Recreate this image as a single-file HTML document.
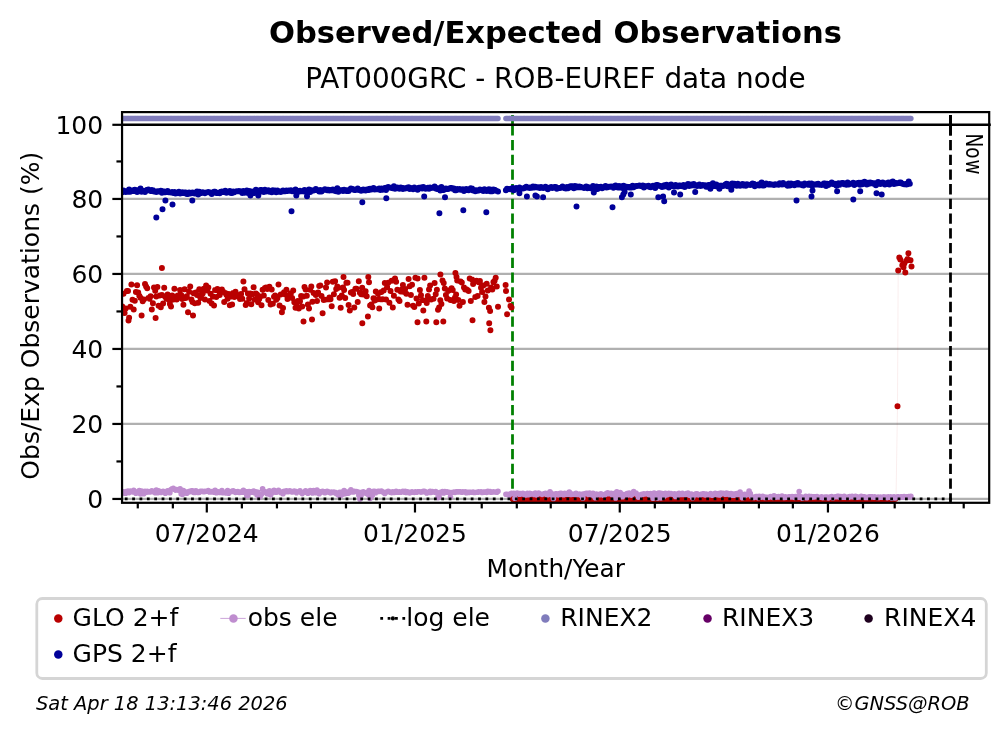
<!DOCTYPE html>
<html lang="en"><head><meta charset="utf-8"><title>Observed/Expected Observations</title>
<style>html,body{margin:0;padding:0;background:#fff}body{width:1008px;height:734px;overflow:hidden}svg text{white-space:pre}</style>
</head><body>
<svg width="1008" height="734" viewBox="0 0 1008 734" font-family='"DejaVu Sans", "Liberation Sans", sans-serif' style="display:block">
<rect width="1008" height="734" fill="#fff"/>
<g stroke="#b0b0b0" stroke-width="2.2" fill="none">
<line x1="122.05" x2="989.2" y1="498.95" y2="498.95"/>
<line x1="122.05" x2="989.2" y1="423.95" y2="423.95"/>
<line x1="122.05" x2="989.2" y1="348.95" y2="348.95"/>
<line x1="122.05" x2="989.2" y1="273.95" y2="273.95"/>
<line x1="122.05" x2="989.2" y1="198.95" y2="198.95"/>
</g>
<clipPath id="ax"><rect x="122.05" y="112.1" width="867.15" height="390.70"/></clipPath>
<g clip-path="url(#ax)">
<line x1="512.5" x2="512.5" y1="115" y2="135.5" stroke="#008000" stroke-width="2.78"/><line x1="512.5" x2="512.5" y1="139.94" y2="502.8" stroke="#008000" stroke-width="2.78" stroke-dasharray="10.28 4.44"/>
<path d="M122.3 118.5h.01M123.5 118.5h.01M124.6 118.5h.01M125.7 118.5h.01M126.9 118.5h.01M128.0 118.5h.01M129.1 118.5h.01M130.3 118.5h.01M131.4 118.5h.01M132.5 118.5h.01M133.7 118.5h.01M134.8 118.5h.01M135.9 118.5h.01M137.1 118.5h.01M138.2 118.5h.01M139.3 118.5h.01M140.5 118.5h.01M141.6 118.5h.01M142.7 118.5h.01M143.8 118.5h.01M145.0 118.5h.01M146.1 118.5h.01M147.2 118.5h.01M148.4 118.5h.01M149.5 118.5h.01M150.6 118.5h.01M151.8 118.5h.01M152.9 118.5h.01M154.0 118.5h.01M155.2 118.5h.01M156.3 118.5h.01M157.4 118.5h.01M158.6 118.5h.01M159.7 118.5h.01M160.8 118.5h.01M161.9 118.5h.01M163.1 118.5h.01M164.2 118.5h.01M165.3 118.5h.01M166.5 118.5h.01M167.6 118.5h.01M168.7 118.5h.01M169.9 118.5h.01M171.0 118.5h.01M172.1 118.5h.01M173.3 118.5h.01M174.4 118.5h.01M175.5 118.5h.01M176.7 118.5h.01M177.8 118.5h.01M178.9 118.5h.01M180.1 118.5h.01M181.2 118.5h.01M182.3 118.5h.01M183.4 118.5h.01M184.6 118.5h.01M185.7 118.5h.01M186.8 118.5h.01M188.0 118.5h.01M189.1 118.5h.01M190.2 118.5h.01M191.4 118.5h.01M192.5 118.5h.01M193.6 118.5h.01M194.8 118.5h.01M195.9 118.5h.01M197.0 118.5h.01M198.2 118.5h.01M199.3 118.5h.01M200.4 118.5h.01M201.5 118.5h.01M202.7 118.5h.01M203.8 118.5h.01M204.9 118.5h.01M206.1 118.5h.01M207.2 118.5h.01M208.3 118.5h.01M209.5 118.5h.01M210.6 118.5h.01M211.7 118.5h.01M212.9 118.5h.01M214.0 118.5h.01M215.1 118.5h.01M216.3 118.5h.01M217.4 118.5h.01M218.5 118.5h.01M219.7 118.5h.01M220.8 118.5h.01M221.9 118.5h.01M223.0 118.5h.01M224.2 118.5h.01M225.3 118.5h.01M226.4 118.5h.01M227.6 118.5h.01M228.7 118.5h.01M229.8 118.5h.01M231.0 118.5h.01M232.1 118.5h.01M233.2 118.5h.01M234.4 118.5h.01M235.5 118.5h.01M236.6 118.5h.01M237.8 118.5h.01M238.9 118.5h.01M240.0 118.5h.01M241.1 118.5h.01M242.3 118.5h.01M243.4 118.5h.01M244.5 118.5h.01M245.7 118.5h.01M246.8 118.5h.01M247.9 118.5h.01M249.1 118.5h.01M250.2 118.5h.01M251.3 118.5h.01M252.5 118.5h.01M253.6 118.5h.01M254.7 118.5h.01M255.9 118.5h.01M257.0 118.5h.01M258.1 118.5h.01M259.2 118.5h.01M260.4 118.5h.01M261.5 118.5h.01M262.6 118.5h.01M263.8 118.5h.01M264.9 118.5h.01M266.0 118.5h.01M267.2 118.5h.01M268.3 118.5h.01M269.4 118.5h.01M270.6 118.5h.01M271.7 118.5h.01M272.8 118.5h.01M274.0 118.5h.01M275.1 118.5h.01M276.2 118.5h.01M277.4 118.5h.01M278.5 118.5h.01M279.6 118.5h.01M280.7 118.5h.01M281.9 118.5h.01M283.0 118.5h.01M284.1 118.5h.01M285.3 118.5h.01M286.4 118.5h.01M287.5 118.5h.01M288.7 118.5h.01M289.8 118.5h.01M290.9 118.5h.01M292.1 118.5h.01M293.2 118.5h.01M294.3 118.5h.01M295.5 118.5h.01M296.6 118.5h.01M297.7 118.5h.01M298.8 118.5h.01M300.0 118.5h.01M301.1 118.5h.01M302.2 118.5h.01M303.4 118.5h.01M304.5 118.5h.01M305.6 118.5h.01M306.8 118.5h.01M307.9 118.5h.01M309.0 118.5h.01M310.2 118.5h.01M311.3 118.5h.01M312.4 118.5h.01M313.6 118.5h.01M314.7 118.5h.01M315.8 118.5h.01M317.0 118.5h.01M318.1 118.5h.01M319.2 118.5h.01M320.3 118.5h.01M321.5 118.5h.01M322.6 118.5h.01M323.7 118.5h.01M324.9 118.5h.01M326.0 118.5h.01M327.1 118.5h.01M328.3 118.5h.01M329.4 118.5h.01M330.5 118.5h.01M331.7 118.5h.01M332.8 118.5h.01M333.9 118.5h.01M335.1 118.5h.01M336.2 118.5h.01M337.3 118.5h.01M338.4 118.5h.01M339.6 118.5h.01M340.7 118.5h.01M341.8 118.5h.01M343.0 118.5h.01M344.1 118.5h.01M345.2 118.5h.01M346.4 118.5h.01M347.5 118.5h.01M348.6 118.5h.01M349.8 118.5h.01M350.9 118.5h.01M352.0 118.5h.01M353.2 118.5h.01M354.3 118.5h.01M355.4 118.5h.01M356.5 118.5h.01M357.7 118.5h.01M358.8 118.5h.01M359.9 118.5h.01M361.1 118.5h.01M362.2 118.5h.01M363.3 118.5h.01M364.5 118.5h.01M365.6 118.5h.01M366.7 118.5h.01M367.9 118.5h.01M369.0 118.5h.01M370.1 118.5h.01M371.3 118.5h.01M372.4 118.5h.01M373.5 118.5h.01M374.7 118.5h.01M375.8 118.5h.01M376.9 118.5h.01M378.0 118.5h.01M379.2 118.5h.01M380.3 118.5h.01M381.4 118.5h.01M382.6 118.5h.01M383.7 118.5h.01M384.8 118.5h.01M386.0 118.5h.01M387.1 118.5h.01M388.2 118.5h.01M389.4 118.5h.01M390.5 118.5h.01M391.6 118.5h.01M392.8 118.5h.01M393.9 118.5h.01M395.0 118.5h.01M396.1 118.5h.01M397.3 118.5h.01M398.4 118.5h.01M399.5 118.5h.01M400.7 118.5h.01M401.8 118.5h.01M402.9 118.5h.01M404.1 118.5h.01M405.2 118.5h.01M406.3 118.5h.01M407.5 118.5h.01M408.6 118.5h.01M409.7 118.5h.01M410.9 118.5h.01M412.0 118.5h.01M413.1 118.5h.01M414.3 118.5h.01M415.4 118.5h.01M416.5 118.5h.01M417.6 118.5h.01M418.8 118.5h.01M419.9 118.5h.01M421.0 118.5h.01M422.2 118.5h.01M423.3 118.5h.01M424.4 118.5h.01M425.6 118.5h.01M426.7 118.5h.01M427.8 118.5h.01M429.0 118.5h.01M430.1 118.5h.01M431.2 118.5h.01M432.4 118.5h.01M433.5 118.5h.01M434.6 118.5h.01M435.7 118.5h.01M436.9 118.5h.01M438.0 118.5h.01M439.1 118.5h.01M440.3 118.5h.01M441.4 118.5h.01M442.5 118.5h.01M443.7 118.5h.01M444.8 118.5h.01M445.9 118.5h.01M447.1 118.5h.01M448.2 118.5h.01M449.3 118.5h.01M450.5 118.5h.01M451.6 118.5h.01M452.7 118.5h.01M453.9 118.5h.01M455.0 118.5h.01M456.1 118.5h.01M457.2 118.5h.01M458.4 118.5h.01M459.5 118.5h.01M460.6 118.5h.01M461.8 118.5h.01M462.9 118.5h.01M464.0 118.5h.01M465.2 118.5h.01M466.3 118.5h.01M467.4 118.5h.01M468.6 118.5h.01M469.7 118.5h.01M470.8 118.5h.01M472.0 118.5h.01M473.1 118.5h.01M474.2 118.5h.01M475.3 118.5h.01M476.5 118.5h.01M477.6 118.5h.01M478.7 118.5h.01M479.9 118.5h.01M481.0 118.5h.01M482.1 118.5h.01M483.3 118.5h.01M484.4 118.5h.01M485.5 118.5h.01M486.7 118.5h.01M487.8 118.5h.01M488.9 118.5h.01M490.1 118.5h.01M491.2 118.5h.01M492.3 118.5h.01M493.4 118.5h.01M494.6 118.5h.01M495.7 118.5h.01M496.8 118.5h.01M498.0 118.5h.01M505.9 118.5h.01M507.0 118.5h.01M508.2 118.5h.01M509.3 118.5h.01M510.4 118.5h.01M511.6 118.5h.01M512.7 118.5h.01M513.8 118.5h.01M514.9 118.5h.01M516.1 118.5h.01M517.2 118.5h.01M518.3 118.5h.01M519.5 118.5h.01M520.6 118.5h.01M521.7 118.5h.01M522.9 118.5h.01M524.0 118.5h.01M525.1 118.5h.01M526.3 118.5h.01M527.4 118.5h.01M528.5 118.5h.01M529.7 118.5h.01M530.8 118.5h.01M531.9 118.5h.01M533.0 118.5h.01M534.2 118.5h.01M535.3 118.5h.01M536.4 118.5h.01M537.6 118.5h.01M538.7 118.5h.01M539.8 118.5h.01M541.0 118.5h.01M542.1 118.5h.01M543.2 118.5h.01M544.4 118.5h.01M545.5 118.5h.01M546.6 118.5h.01M547.8 118.5h.01M548.9 118.5h.01M550.0 118.5h.01M551.2 118.5h.01M552.3 118.5h.01M553.4 118.5h.01M554.5 118.5h.01M555.7 118.5h.01M556.8 118.5h.01M557.9 118.5h.01M559.1 118.5h.01M560.2 118.5h.01M561.3 118.5h.01M562.5 118.5h.01M563.6 118.5h.01M564.7 118.5h.01M565.9 118.5h.01M567.0 118.5h.01M568.1 118.5h.01M569.3 118.5h.01M570.4 118.5h.01M571.5 118.5h.01M572.6 118.5h.01M573.8 118.5h.01M574.9 118.5h.01M576.0 118.5h.01M577.2 118.5h.01M578.3 118.5h.01M579.4 118.5h.01M580.6 118.5h.01M581.7 118.5h.01M582.8 118.5h.01M584.0 118.5h.01M585.1 118.5h.01M586.2 118.5h.01M587.4 118.5h.01M588.5 118.5h.01M589.6 118.5h.01M590.7 118.5h.01M591.9 118.5h.01M593.0 118.5h.01M594.1 118.5h.01M595.3 118.5h.01M596.4 118.5h.01M597.5 118.5h.01M598.7 118.5h.01M599.8 118.5h.01M600.9 118.5h.01M602.1 118.5h.01M603.2 118.5h.01M604.3 118.5h.01M605.5 118.5h.01M606.6 118.5h.01M607.7 118.5h.01M608.9 118.5h.01M610.0 118.5h.01M611.1 118.5h.01M612.2 118.5h.01M613.4 118.5h.01M614.5 118.5h.01M615.6 118.5h.01M616.8 118.5h.01M617.9 118.5h.01M619.0 118.5h.01M620.2 118.5h.01M621.3 118.5h.01M622.4 118.5h.01M623.6 118.5h.01M624.7 118.5h.01M625.8 118.5h.01M627.0 118.5h.01M628.1 118.5h.01M629.2 118.5h.01M630.3 118.5h.01M631.5 118.5h.01M632.6 118.5h.01M633.7 118.5h.01M634.9 118.5h.01M636.0 118.5h.01M637.1 118.5h.01M638.3 118.5h.01M639.4 118.5h.01M640.5 118.5h.01M641.7 118.5h.01M642.8 118.5h.01M643.9 118.5h.01M645.1 118.5h.01M646.2 118.5h.01M647.3 118.5h.01M648.5 118.5h.01M649.6 118.5h.01M650.7 118.5h.01M651.8 118.5h.01M653.0 118.5h.01M654.1 118.5h.01M655.2 118.5h.01M656.4 118.5h.01M657.5 118.5h.01M658.6 118.5h.01M659.8 118.5h.01M660.9 118.5h.01M662.0 118.5h.01M663.2 118.5h.01M664.3 118.5h.01M665.4 118.5h.01M666.6 118.5h.01M667.7 118.5h.01M668.8 118.5h.01M669.9 118.5h.01M671.1 118.5h.01M672.2 118.5h.01M673.3 118.5h.01M674.5 118.5h.01M675.6 118.5h.01M676.7 118.5h.01M677.9 118.5h.01M679.0 118.5h.01M680.1 118.5h.01M681.3 118.5h.01M682.4 118.5h.01M683.5 118.5h.01M684.7 118.5h.01M685.8 118.5h.01M686.9 118.5h.01M688.0 118.5h.01M689.2 118.5h.01M690.3 118.5h.01M691.4 118.5h.01M692.6 118.5h.01M693.7 118.5h.01M694.8 118.5h.01M696.0 118.5h.01M697.1 118.5h.01M698.2 118.5h.01M699.4 118.5h.01M700.5 118.5h.01M701.6 118.5h.01M702.8 118.5h.01M703.9 118.5h.01M705.0 118.5h.01M706.2 118.5h.01M707.3 118.5h.01M708.4 118.5h.01M709.5 118.5h.01M710.7 118.5h.01M711.8 118.5h.01M712.9 118.5h.01M714.1 118.5h.01M715.2 118.5h.01M716.3 118.5h.01M717.5 118.5h.01M718.6 118.5h.01M719.7 118.5h.01M720.9 118.5h.01M722.0 118.5h.01M723.1 118.5h.01M724.3 118.5h.01M725.4 118.5h.01M726.5 118.5h.01M727.6 118.5h.01M728.8 118.5h.01M729.9 118.5h.01M731.0 118.5h.01M732.2 118.5h.01M733.3 118.5h.01M734.4 118.5h.01M735.6 118.5h.01M736.7 118.5h.01M737.8 118.5h.01M739.0 118.5h.01M740.1 118.5h.01M741.2 118.5h.01M742.4 118.5h.01M743.5 118.5h.01M744.6 118.5h.01M745.8 118.5h.01M746.9 118.5h.01M748.0 118.5h.01M749.1 118.5h.01M750.3 118.5h.01M751.4 118.5h.01M752.5 118.5h.01M753.7 118.5h.01M754.8 118.5h.01M755.9 118.5h.01M757.1 118.5h.01M758.2 118.5h.01M759.3 118.5h.01M760.5 118.5h.01M761.6 118.5h.01M762.7 118.5h.01M763.9 118.5h.01M765.0 118.5h.01M766.1 118.5h.01M767.2 118.5h.01M768.4 118.5h.01M769.5 118.5h.01M770.6 118.5h.01M771.8 118.5h.01M772.9 118.5h.01M774.0 118.5h.01M775.2 118.5h.01M776.3 118.5h.01M777.4 118.5h.01M778.6 118.5h.01M779.7 118.5h.01M780.8 118.5h.01M782.0 118.5h.01M783.1 118.5h.01M784.2 118.5h.01M785.4 118.5h.01M786.5 118.5h.01M787.6 118.5h.01M788.7 118.5h.01M789.9 118.5h.01M791.0 118.5h.01M792.1 118.5h.01M793.3 118.5h.01M794.4 118.5h.01M795.5 118.5h.01M796.7 118.5h.01M797.8 118.5h.01M798.9 118.5h.01M800.1 118.5h.01M801.2 118.5h.01M802.3 118.5h.01M803.5 118.5h.01M804.6 118.5h.01M805.7 118.5h.01M806.8 118.5h.01M808.0 118.5h.01M809.1 118.5h.01M810.2 118.5h.01M811.4 118.5h.01M812.5 118.5h.01M813.6 118.5h.01M814.8 118.5h.01M815.9 118.5h.01M817.0 118.5h.01M818.2 118.5h.01M819.3 118.5h.01M820.4 118.5h.01M821.6 118.5h.01M822.7 118.5h.01M823.8 118.5h.01M824.9 118.5h.01M826.1 118.5h.01M827.2 118.5h.01M828.3 118.5h.01M829.5 118.5h.01M830.6 118.5h.01M831.7 118.5h.01M832.9 118.5h.01M834.0 118.5h.01M835.1 118.5h.01M836.3 118.5h.01M837.4 118.5h.01M838.5 118.5h.01M839.7 118.5h.01M840.8 118.5h.01M841.9 118.5h.01M843.1 118.5h.01M844.2 118.5h.01M845.3 118.5h.01M846.4 118.5h.01M847.6 118.5h.01M848.7 118.5h.01M849.8 118.5h.01M851.0 118.5h.01M852.1 118.5h.01M853.2 118.5h.01M854.4 118.5h.01M855.5 118.5h.01M856.6 118.5h.01M857.8 118.5h.01M858.9 118.5h.01M860.0 118.5h.01M861.2 118.5h.01M862.3 118.5h.01M863.4 118.5h.01M864.5 118.5h.01M865.7 118.5h.01M866.8 118.5h.01M867.9 118.5h.01M869.1 118.5h.01M870.2 118.5h.01M871.3 118.5h.01M872.5 118.5h.01M873.6 118.5h.01M874.7 118.5h.01M875.9 118.5h.01M877.0 118.5h.01M878.1 118.5h.01M879.3 118.5h.01M880.4 118.5h.01M881.5 118.5h.01M882.7 118.5h.01M883.8 118.5h.01M884.9 118.5h.01M886.0 118.5h.01M887.2 118.5h.01M888.3 118.5h.01M889.4 118.5h.01M890.6 118.5h.01M891.7 118.5h.01M892.8 118.5h.01M894.0 118.5h.01M895.1 118.5h.01M896.2 118.5h.01M897.4 118.5h.01M898.5 118.5h.01M899.6 118.5h.01M900.8 118.5h.01M901.9 118.5h.01M903.0 118.5h.01M904.1 118.5h.01M905.3 118.5h.01M906.4 118.5h.01M907.5 118.5h.01M908.7 118.5h.01M909.8 118.5h.01M910.9 118.5h.01" fill="none" stroke="#807cbc" stroke-width="5.5" stroke-linecap="round" />
<path d="M896 498.9L897.5 406.3L898.2 270.5" fill="none" stroke="#b90000" stroke-opacity="0.07" stroke-width="1"/>
<path d="M122.3 306.5h.01M123.5 293.8h.01M124.6 313.0h.01M125.7 308.5h.01M126.9 291.0h.01M128.0 291.1h.01M129.1 317.7h.01M130.3 306.7h.01M131.4 284.5h.01M132.5 299.8h.01M133.7 309.5h.01M134.8 300.7h.01M135.9 292.1h.01M137.1 285.2h.01M138.2 292.5h.01M139.3 295.8h.01M140.5 297.7h.01M141.6 315.6h.01M142.7 301.3h.01M143.8 299.6h.01M145.0 283.9h.01M146.1 286.6h.01M147.2 288.3h.01M148.4 298.0h.01M149.5 298.7h.01M150.6 296.2h.01M151.8 309.6h.01M152.9 303.3h.01M154.0 287.5h.01M155.2 290.8h.01M156.3 296.4h.01M157.4 287.0h.01M158.6 305.7h.01M159.7 295.4h.01M160.8 307.2h.01M161.9 295.0h.01M163.1 303.4h.01M164.2 287.7h.01M165.3 297.1h.01M166.5 298.5h.01M167.6 294.6h.01M168.7 299.8h.01M169.9 303.9h.01M171.0 306.6h.01M172.1 295.5h.01M173.3 299.6h.01M174.4 288.7h.01M175.5 296.6h.01M176.7 299.6h.01M177.8 295.6h.01M178.9 295.2h.01M180.1 290.0h.01M181.2 295.1h.01M182.3 299.0h.01M183.4 304.8h.01M184.6 289.3h.01M185.7 297.9h.01M186.8 296.3h.01M188.0 312.3h.01M189.1 291.8h.01M190.2 286.5h.01M191.4 299.6h.01M192.5 301.9h.01M193.6 293.2h.01M194.8 303.3h.01M195.9 292.4h.01M197.0 294.9h.01M198.2 302.8h.01M199.3 289.3h.01M200.4 298.0h.01M201.5 294.5h.01M202.7 293.5h.01M203.8 288.7h.01M204.9 299.5h.01M206.1 285.5h.01M207.2 290.5h.01M208.3 287.6h.01M209.5 301.1h.01M210.6 293.8h.01M211.7 303.6h.01M212.9 296.5h.01M214.0 305.6h.01M215.1 290.1h.01M216.3 296.9h.01M217.4 289.1h.01M218.5 290.7h.01M219.7 295.1h.01M220.8 290.4h.01M221.9 289.6h.01M223.0 291.4h.01M224.2 302.0h.01M225.3 293.0h.01M226.4 294.7h.01M227.6 298.7h.01M228.7 294.1h.01M229.8 305.3h.01M231.0 296.6h.01M232.1 304.6h.01M233.2 292.9h.01M234.4 297.1h.01M235.5 291.8h.01M236.6 295.5h.01M237.8 296.0h.01M238.9 294.9h.01M240.0 299.1h.01M241.1 294.0h.01M242.3 298.8h.01M243.4 281.5h.01M244.5 289.3h.01M245.7 305.1h.01M246.8 303.1h.01M247.9 293.4h.01M249.1 298.6h.01M250.2 293.6h.01M251.3 304.3h.01M252.5 294.1h.01M253.6 287.3h.01M254.7 299.4h.01M255.9 293.6h.01M257.0 294.4h.01M258.1 302.3h.01M259.2 299.0h.01M260.4 296.4h.01M261.5 305.3h.01M262.6 289.8h.01M263.8 295.4h.01M264.9 287.9h.01M266.0 287.5h.01M267.2 289.0h.01M268.3 300.1h.01M269.4 286.7h.01M270.6 304.4h.01M271.7 289.5h.01M272.8 303.7h.01M274.0 296.7h.01M275.1 295.5h.01M276.2 299.8h.01M277.4 298.3h.01M278.5 284.5h.01M279.6 305.4h.01M280.7 294.5h.01M281.9 312.2h.01M283.0 308.0h.01M284.1 292.2h.01M285.3 294.4h.01M286.4 289.8h.01M287.5 299.1h.01M288.7 295.8h.01M289.8 296.1h.01M290.9 293.2h.01M292.1 297.9h.01M293.2 290.5h.01M294.3 302.3h.01M295.5 307.7h.01M296.6 305.7h.01M297.7 301.0h.01M298.8 308.5h.01M300.0 301.2h.01M301.1 295.9h.01M302.2 306.5h.01M303.4 296.6h.01M304.5 287.0h.01M305.6 289.4h.01M306.8 295.7h.01M307.9 304.5h.01M309.0 308.4h.01M310.2 289.8h.01M311.3 286.5h.01M312.4 301.8h.01M313.6 292.9h.01M314.7 293.4h.01M315.8 295.1h.01M317.0 301.1h.01M318.1 292.4h.01M319.2 286.1h.01M320.3 285.6h.01M321.5 296.0h.01M322.6 313.2h.01M323.7 300.1h.01M324.9 299.7h.01M326.0 287.5h.01M327.1 282.6h.01M328.3 299.2h.01M329.4 297.6h.01M330.5 299.2h.01M331.7 306.3h.01M332.8 281.8h.01M333.9 294.3h.01M335.1 281.2h.01M336.2 289.0h.01M337.3 286.5h.01M338.4 287.8h.01M339.6 297.7h.01M340.7 307.8h.01M341.8 295.4h.01M343.0 287.6h.01M344.1 290.0h.01M345.2 297.9h.01M346.4 282.7h.01M347.5 282.7h.01M348.6 305.1h.01M349.8 310.4h.01M350.9 292.5h.01M352.0 292.0h.01M353.2 293.9h.01M354.3 307.4h.01M355.4 288.8h.01M356.5 288.8h.01M357.7 302.0h.01M358.8 281.3h.01M359.9 292.8h.01M361.1 294.3h.01M362.2 287.7h.01M363.3 294.6h.01M364.5 294.5h.01M365.6 291.3h.01M366.7 296.3h.01M367.9 316.5h.01M369.0 282.3h.01M370.1 305.5h.01M371.3 304.4h.01M372.4 307.2h.01M373.5 298.3h.01M374.7 300.4h.01M375.8 291.4h.01M376.9 299.6h.01M378.0 293.8h.01M379.2 308.6h.01M380.3 299.2h.01M381.4 292.0h.01M382.6 299.3h.01M383.7 290.6h.01M384.8 282.9h.01M386.0 299.4h.01M387.1 286.9h.01M388.2 282.7h.01M389.4 302.7h.01M390.5 290.9h.01M391.6 280.7h.01M392.8 307.5h.01M393.9 295.8h.01M395.0 278.6h.01M396.1 281.8h.01M397.3 289.8h.01M398.4 299.5h.01M399.5 301.0h.01M400.7 291.4h.01M401.8 289.5h.01M402.9 285.0h.01M404.1 292.0h.01M405.2 288.9h.01M406.3 293.8h.01M407.5 304.7h.01M408.6 278.9h.01M409.7 286.2h.01M410.9 294.9h.01M412.0 284.8h.01M413.1 305.8h.01M414.3 307.0h.01M415.4 277.8h.01M416.5 298.5h.01M417.6 278.6h.01M418.8 303.5h.01M419.9 289.9h.01M421.0 295.3h.01M422.2 300.1h.01M423.3 310.5h.01M424.4 277.7h.01M425.6 300.5h.01M426.7 303.0h.01M427.8 296.0h.01M429.0 289.6h.01M430.1 285.4h.01M431.2 299.6h.01M432.4 299.1h.01M433.5 298.7h.01M434.6 283.1h.01M435.7 294.2h.01M436.9 289.7h.01M438.0 309.7h.01M439.1 307.6h.01M440.3 300.3h.01M441.4 304.1h.01M442.5 280.5h.01M443.7 283.1h.01M444.8 288.4h.01M445.9 295.1h.01M447.1 298.4h.01M448.2 290.9h.01M449.3 290.2h.01M450.5 299.9h.01M451.6 288.3h.01M452.7 290.0h.01M453.9 301.1h.01M455.0 297.6h.01M456.1 294.6h.01M457.2 280.5h.01M458.4 300.1h.01M459.5 305.7h.01M460.6 281.5h.01M461.8 282.5h.01M462.9 302.1h.01M464.0 287.5h.01M465.2 289.6h.01M466.3 289.2h.01M467.4 289.9h.01M468.6 291.1h.01M469.7 278.4h.01M470.8 301.1h.01M472.0 279.4h.01M473.1 284.1h.01M474.2 280.9h.01M475.3 296.9h.01M476.5 280.8h.01M477.6 296.1h.01M478.7 282.2h.01M479.9 281.1h.01M481.0 287.7h.01M482.1 291.9h.01M483.3 285.6h.01M484.4 301.9h.01M485.5 296.5h.01M486.7 283.8h.01M487.8 290.4h.01M488.9 307.8h.01M490.1 311.1h.01M491.2 287.5h.01M492.3 289.6h.01M493.4 281.9h.01M494.6 280.8h.01M495.7 277.7h.01M496.8 286.6h.01M498.0 306.8h.01M512.7 498.9h.01M513.8 498.9h.01M514.9 498.9h.01M516.1 498.9h.01M517.2 498.9h.01M518.3 498.9h.01M519.5 498.9h.01M520.6 498.9h.01M521.7 498.9h.01M522.9 498.9h.01M524.0 498.9h.01M525.1 498.9h.01M526.3 498.9h.01M527.4 498.9h.01M528.5 498.9h.01M529.7 498.9h.01M530.8 498.9h.01M531.9 498.9h.01M533.0 498.9h.01M534.2 498.9h.01M535.3 498.9h.01M536.4 498.9h.01M537.6 498.9h.01M538.7 498.9h.01M539.8 498.9h.01M541.0 498.9h.01M542.1 498.9h.01M543.2 498.9h.01M544.4 498.9h.01M545.5 498.9h.01M546.6 498.9h.01M547.8 498.9h.01M548.9 498.9h.01M550.0 498.9h.01M551.2 498.9h.01M552.3 498.9h.01M553.4 498.9h.01M554.5 498.9h.01M555.7 498.9h.01M556.8 498.9h.01M557.9 498.9h.01M559.1 498.9h.01M560.2 498.9h.01M561.3 498.9h.01M562.5 498.9h.01M563.6 498.9h.01M564.7 498.9h.01M565.9 498.9h.01M567.0 498.9h.01M568.1 498.9h.01M569.3 498.9h.01M570.4 498.9h.01M571.5 498.9h.01M572.6 498.9h.01M573.8 498.9h.01M574.9 498.9h.01M576.0 498.9h.01M577.2 498.9h.01M578.3 498.9h.01M579.4 498.9h.01M580.6 498.9h.01M581.7 498.9h.01M582.8 498.9h.01M584.0 498.9h.01M585.1 498.9h.01M586.2 498.9h.01M587.4 498.9h.01M588.5 498.9h.01M589.6 498.9h.01M590.7 498.9h.01M591.9 498.9h.01M593.0 498.9h.01M594.1 498.9h.01M595.3 498.9h.01M596.4 498.9h.01M597.5 498.9h.01M598.7 498.9h.01M599.8 498.9h.01M600.9 498.9h.01M602.1 498.9h.01M603.2 498.9h.01M604.3 498.9h.01M605.5 498.9h.01M606.6 498.9h.01M607.7 498.9h.01M608.9 498.9h.01M610.0 498.9h.01M611.1 498.9h.01M612.2 498.9h.01M613.4 498.9h.01M614.5 498.9h.01M615.6 498.9h.01M616.8 498.9h.01M617.9 498.9h.01M619.0 498.9h.01M620.2 498.9h.01M621.3 498.9h.01M622.4 498.9h.01M623.6 498.9h.01M624.7 498.9h.01M625.8 498.9h.01M627.0 498.9h.01M628.1 498.9h.01M629.2 498.9h.01M630.3 498.9h.01M631.5 498.9h.01M632.6 498.9h.01M633.7 498.9h.01M634.9 498.9h.01M636.0 498.9h.01M637.1 498.9h.01M638.3 498.9h.01M639.4 498.9h.01M640.5 498.9h.01M641.7 498.9h.01M642.8 498.9h.01M643.9 498.9h.01M645.1 498.9h.01M646.2 498.9h.01M647.3 498.9h.01M648.5 498.9h.01M649.6 498.9h.01M650.7 498.9h.01M651.8 498.9h.01M653.0 498.9h.01M654.1 498.9h.01M655.2 498.9h.01M656.4 498.9h.01M657.5 498.9h.01M658.6 498.9h.01M659.8 498.9h.01M660.9 498.9h.01M662.0 498.9h.01M663.2 498.9h.01M664.3 498.9h.01M665.4 498.9h.01M666.6 498.9h.01M667.7 498.9h.01M668.8 498.9h.01M669.9 498.9h.01M671.1 498.9h.01M672.2 498.9h.01M673.3 498.9h.01M674.5 498.9h.01M675.6 498.9h.01M676.7 498.9h.01M677.9 498.9h.01M679.0 498.9h.01M680.1 498.9h.01M681.3 498.9h.01M682.4 498.9h.01M683.5 498.9h.01M684.7 498.9h.01M685.8 498.9h.01M686.9 498.9h.01M688.0 498.9h.01M689.2 498.9h.01M690.3 498.9h.01M691.4 498.9h.01M692.6 498.9h.01M693.7 498.9h.01M694.8 498.9h.01M696.0 498.9h.01M697.1 498.9h.01M698.2 498.9h.01M699.4 498.9h.01M700.5 498.9h.01M701.6 498.9h.01M702.8 498.9h.01M703.9 498.9h.01M705.0 498.9h.01M706.2 498.9h.01M707.3 498.9h.01M708.4 498.9h.01M709.5 498.9h.01M710.7 498.9h.01M711.8 498.9h.01M712.9 498.9h.01M714.1 498.9h.01M715.2 498.9h.01M716.3 498.9h.01M717.5 498.9h.01M718.6 498.9h.01M719.7 498.9h.01M720.9 498.9h.01M722.0 498.9h.01M723.1 498.9h.01M724.3 498.9h.01M725.4 498.9h.01M726.5 498.9h.01M727.6 498.9h.01M728.8 498.9h.01M729.9 498.9h.01M731.0 498.9h.01M732.2 498.9h.01M733.3 498.9h.01M734.4 498.9h.01M735.6 498.9h.01M736.7 498.9h.01M737.8 498.9h.01M739.0 498.9h.01M740.1 498.9h.01M741.2 498.9h.01M742.4 498.9h.01M743.5 498.9h.01M744.6 498.9h.01M745.8 498.9h.01M746.9 498.9h.01M748.0 498.9h.01M749.1 498.9h.01M750.3 498.9h.01M751.4 498.9h.01M752.5 498.9h.01M753.7 498.9h.01M754.8 498.9h.01M755.9 498.9h.01M757.1 498.9h.01M758.2 498.9h.01M759.3 498.9h.01M760.5 498.9h.01M761.6 498.9h.01M762.7 498.9h.01M763.9 498.9h.01M765.0 498.9h.01M766.1 498.9h.01M767.2 498.9h.01M768.4 498.9h.01M769.5 498.9h.01M770.6 498.9h.01M771.8 498.9h.01M772.9 498.9h.01M774.0 498.9h.01M775.2 498.9h.01M776.3 498.9h.01M777.4 498.9h.01M778.6 498.9h.01M779.7 498.9h.01M780.8 498.9h.01M782.0 498.9h.01M783.1 498.9h.01M784.2 498.9h.01M785.4 498.9h.01M786.5 498.9h.01M787.6 498.9h.01M788.7 498.9h.01M789.9 498.9h.01M791.0 498.9h.01M792.1 498.9h.01M793.3 498.9h.01M794.4 498.9h.01M795.5 498.9h.01M796.7 498.9h.01M797.8 498.9h.01M798.9 498.9h.01M800.1 498.9h.01M801.2 498.9h.01M802.3 498.9h.01M803.5 498.9h.01M804.6 498.9h.01M805.7 498.9h.01M806.8 498.9h.01M808.0 498.9h.01M809.1 498.9h.01M810.2 498.9h.01M811.4 498.9h.01M812.5 498.9h.01M813.6 498.9h.01M814.8 498.9h.01M815.9 498.9h.01M817.0 498.9h.01M818.2 498.9h.01M819.3 498.9h.01M820.4 498.9h.01M821.6 498.9h.01M822.7 498.9h.01M823.8 498.9h.01M824.9 498.9h.01M826.1 498.9h.01M827.2 498.9h.01M828.3 498.9h.01M829.5 498.9h.01M830.6 498.9h.01M831.7 498.9h.01M832.9 498.9h.01M834.0 498.9h.01M835.1 498.9h.01M836.3 498.9h.01M837.4 498.9h.01M838.5 498.9h.01M839.7 498.9h.01M840.8 498.9h.01M841.9 498.9h.01M843.1 498.9h.01M844.2 498.9h.01M845.3 498.9h.01M846.4 498.9h.01M847.6 498.9h.01M848.7 498.9h.01M849.8 498.9h.01M851.0 498.9h.01M852.1 498.9h.01M853.2 498.9h.01M854.4 498.9h.01M855.5 498.9h.01M856.6 498.9h.01M857.8 498.9h.01M858.9 498.9h.01M860.0 498.9h.01M861.2 498.9h.01M862.3 498.9h.01M863.4 498.9h.01M864.5 498.9h.01M865.7 498.9h.01M866.8 498.9h.01M867.9 498.9h.01M869.1 498.9h.01M870.2 498.9h.01M871.3 498.9h.01M872.5 498.9h.01M873.6 498.9h.01M874.7 498.9h.01M875.9 498.9h.01M877.0 498.9h.01M878.1 498.9h.01M879.3 498.9h.01M880.4 498.9h.01M881.5 498.9h.01M882.7 498.9h.01M883.8 498.9h.01M884.9 498.9h.01M886.0 498.9h.01M887.2 498.9h.01M888.3 498.9h.01M889.4 498.9h.01M890.6 498.9h.01M891.7 498.9h.01M892.8 498.9h.01M894.0 498.9h.01M895.1 498.9h.01M161.9 268.1h.01M128.5 320.4h.01M155.6 318.1h.01M193.0 315.6h.01M303.5 321.5h.01M312.0 319.5h.01M362.3 323.3h.01M417.5 322.3h.01M426.3 321.5h.01M436.3 322.3h.01M443.3 321.5h.01M472.5 320.2h.01M489.2 323.3h.01M490.4 330.2h.01M440.4 274.4h.01M455.4 272.9h.01M456.5 277.1h.01M343.5 277.0h.01M368.3 277.0h.01M507.1 314.2h.01M505.6 285.0h.01M506.0 291.0h.01M509.0 299.5h.01M510.5 306.0h.01M511.5 307.5h.01M898.2 270.5h.01M899.3 257.4h.01M900.3 259.4h.01M902.3 265.2h.01M903.5 267.2h.01M904.3 263.5h.01M905.3 272.5h.01M906.4 260.7h.01M907.6 259.0h.01M908.4 253.3h.01M910.5 260.3h.01M911.5 266.4h.01M897.5 406.3h.01" fill="none" stroke="#b90000" stroke-width="6.0" stroke-linecap="round" />
<path d="M122.3 192.3h.01M123.5 190.6h.01M124.6 191.1h.01M125.7 191.9h.01M126.9 191.0h.01M128.0 191.8h.01M129.1 189.5h.01M130.3 191.8h.01M131.4 191.2h.01M132.5 190.6h.01M133.7 191.1h.01M134.8 189.7h.01M135.9 190.9h.01M137.1 192.1h.01M138.2 190.0h.01M139.3 191.2h.01M140.5 188.4h.01M141.6 191.7h.01M142.7 191.3h.01M143.8 190.9h.01M145.0 191.9h.01M146.1 190.4h.01M147.2 189.8h.01M148.4 189.6h.01M149.5 190.6h.01M150.6 191.1h.01M151.8 190.0h.01M152.9 190.2h.01M154.0 191.4h.01M155.2 191.8h.01M156.3 192.1h.01M157.4 191.3h.01M158.6 191.6h.01M159.7 191.0h.01M160.8 190.8h.01M161.9 192.7h.01M163.1 191.5h.01M164.2 191.6h.01M165.3 192.3h.01M166.5 191.9h.01M167.6 191.0h.01M168.7 192.2h.01M169.9 192.3h.01M171.0 192.6h.01M172.1 192.1h.01M173.3 192.9h.01M174.4 192.1h.01M175.5 193.6h.01M176.7 193.3h.01M177.8 192.5h.01M178.9 191.8h.01M180.1 193.4h.01M181.2 192.9h.01M182.3 192.3h.01M183.4 193.1h.01M184.6 192.6h.01M185.7 192.5h.01M186.8 193.9h.01M188.0 194.0h.01M189.1 192.6h.01M190.2 193.5h.01M191.4 192.7h.01M192.5 192.5h.01M193.6 193.3h.01M194.8 193.5h.01M195.9 193.3h.01M197.0 191.6h.01M198.2 194.4h.01M199.3 191.8h.01M200.4 192.6h.01M201.5 193.1h.01M202.7 192.2h.01M203.8 192.6h.01M204.9 193.2h.01M206.1 192.5h.01M207.2 192.3h.01M208.3 192.0h.01M209.5 192.3h.01M210.6 192.4h.01M211.7 194.1h.01M212.9 192.8h.01M214.0 191.8h.01M215.1 191.7h.01M216.3 192.9h.01M217.4 192.7h.01M218.5 193.0h.01M219.7 193.2h.01M220.8 191.7h.01M221.9 191.4h.01M223.0 192.1h.01M224.2 191.7h.01M225.3 190.8h.01M226.4 192.8h.01M227.6 191.9h.01M228.7 191.9h.01M229.8 191.1h.01M231.0 192.9h.01M232.1 193.1h.01M233.2 191.5h.01M234.4 192.3h.01M235.5 191.6h.01M236.6 191.2h.01M237.8 191.3h.01M238.9 191.0h.01M240.0 191.5h.01M241.1 191.6h.01M242.3 192.9h.01M243.4 190.9h.01M244.5 192.7h.01M245.7 191.7h.01M246.8 190.5h.01M247.9 192.9h.01M249.1 190.9h.01M250.2 192.1h.01M251.3 191.6h.01M252.5 192.8h.01M253.6 193.1h.01M254.7 191.1h.01M255.9 189.7h.01M257.0 190.8h.01M258.1 191.3h.01M259.2 191.2h.01M260.4 190.0h.01M261.5 190.0h.01M262.6 191.8h.01M263.8 192.1h.01M264.9 189.8h.01M266.0 191.5h.01M267.2 190.7h.01M268.3 190.2h.01M269.4 191.8h.01M270.6 191.6h.01M271.7 192.3h.01M272.8 190.2h.01M274.0 191.2h.01M275.1 190.4h.01M276.2 192.2h.01M277.4 190.5h.01M278.5 191.7h.01M279.6 191.2h.01M280.7 192.1h.01M281.9 191.2h.01M283.0 190.4h.01M284.1 191.2h.01M285.3 191.2h.01M286.4 190.5h.01M287.5 191.1h.01M288.7 190.5h.01M289.8 190.8h.01M290.9 190.2h.01M292.1 191.2h.01M293.2 190.7h.01M294.3 190.6h.01M295.5 189.5h.01M296.6 190.4h.01M297.7 191.6h.01M298.8 191.7h.01M300.0 190.7h.01M301.1 191.0h.01M302.2 191.3h.01M303.4 191.1h.01M304.5 190.0h.01M305.6 192.0h.01M306.8 190.4h.01M307.9 190.8h.01M309.0 189.4h.01M310.2 191.9h.01M311.3 190.2h.01M312.4 190.7h.01M313.6 190.4h.01M314.7 190.1h.01M315.8 188.9h.01M317.0 190.1h.01M318.1 190.0h.01M319.2 191.5h.01M320.3 189.9h.01M321.5 191.5h.01M322.6 190.5h.01M323.7 190.0h.01M324.9 189.3h.01M326.0 189.6h.01M327.1 190.2h.01M328.3 189.7h.01M329.4 190.5h.01M330.5 190.2h.01M331.7 190.3h.01M332.8 189.6h.01M333.9 190.4h.01M335.1 191.0h.01M336.2 191.2h.01M337.3 188.3h.01M338.4 191.8h.01M339.6 190.2h.01M340.7 190.3h.01M341.8 190.3h.01M343.0 190.9h.01M344.1 189.7h.01M345.2 190.0h.01M346.4 190.9h.01M347.5 190.4h.01M348.6 191.1h.01M349.8 189.7h.01M350.9 188.5h.01M352.0 188.8h.01M353.2 189.2h.01M354.3 190.0h.01M355.4 190.0h.01M356.5 189.6h.01M357.7 188.6h.01M358.8 189.9h.01M359.9 190.0h.01M361.1 190.8h.01M362.2 189.8h.01M363.3 189.6h.01M364.5 190.2h.01M365.6 190.4h.01M366.7 189.5h.01M367.9 189.2h.01M369.0 190.0h.01M370.1 188.7h.01M371.3 189.5h.01M372.4 189.0h.01M373.5 187.9h.01M374.7 189.5h.01M375.8 189.1h.01M376.9 189.2h.01M378.0 189.2h.01M379.2 188.6h.01M380.3 190.0h.01M381.4 188.5h.01M382.6 189.8h.01M383.7 189.1h.01M384.8 187.9h.01M386.0 189.9h.01M387.1 187.4h.01M388.2 186.9h.01M389.4 187.4h.01M390.5 187.7h.01M391.6 188.1h.01M392.8 188.3h.01M393.9 186.3h.01M395.0 188.8h.01M396.1 187.9h.01M397.3 187.4h.01M398.4 188.2h.01M399.5 188.7h.01M400.7 187.5h.01M401.8 187.7h.01M402.9 189.1h.01M404.1 188.3h.01M405.2 188.4h.01M406.3 188.1h.01M407.5 187.4h.01M408.6 187.2h.01M409.7 188.9h.01M410.9 188.0h.01M412.0 188.5h.01M413.1 189.3h.01M414.3 187.5h.01M415.4 188.4h.01M416.5 188.3h.01M417.6 189.8h.01M418.8 187.7h.01M419.9 188.1h.01M421.0 187.6h.01M422.2 188.6h.01M423.3 187.0h.01M424.4 188.0h.01M425.6 188.7h.01M426.7 188.0h.01M427.8 187.8h.01M429.0 188.8h.01M430.1 187.5h.01M431.2 188.0h.01M432.4 187.8h.01M433.5 187.6h.01M434.6 186.4h.01M435.7 188.6h.01M436.9 188.9h.01M438.0 188.2h.01M439.1 188.7h.01M440.3 190.4h.01M441.4 187.1h.01M442.5 188.3h.01M443.7 190.0h.01M444.8 189.2h.01M445.9 188.5h.01M447.1 189.0h.01M448.2 189.1h.01M449.3 188.6h.01M450.5 188.1h.01M451.6 188.1h.01M452.7 188.7h.01M453.9 188.6h.01M455.0 190.2h.01M456.1 190.2h.01M457.2 189.1h.01M458.4 189.5h.01M459.5 189.0h.01M460.6 189.8h.01M461.8 189.7h.01M462.9 189.3h.01M464.0 191.1h.01M465.2 190.3h.01M466.3 188.9h.01M467.4 189.4h.01M468.6 190.3h.01M469.7 189.3h.01M470.8 188.2h.01M472.0 188.5h.01M473.1 190.5h.01M474.2 190.1h.01M475.3 191.2h.01M476.5 190.2h.01M477.6 190.8h.01M478.7 190.4h.01M479.9 189.6h.01M481.0 190.1h.01M482.1 190.1h.01M483.3 191.1h.01M484.4 189.2h.01M485.5 190.2h.01M486.7 191.1h.01M487.8 190.0h.01M488.9 189.2h.01M490.1 191.2h.01M491.2 189.8h.01M492.3 191.2h.01M493.4 189.5h.01M494.6 189.7h.01M495.7 190.5h.01M496.8 191.1h.01M498.0 191.5h.01M505.9 190.2h.01M507.0 188.7h.01M508.2 188.9h.01M509.3 189.0h.01M510.4 189.2h.01M511.6 188.7h.01M512.7 188.0h.01M513.8 190.2h.01M514.9 188.5h.01M516.1 188.0h.01M517.2 188.7h.01M518.3 188.0h.01M519.5 187.6h.01M520.6 188.3h.01M521.7 188.3h.01M522.9 188.5h.01M524.0 188.2h.01M525.1 187.4h.01M526.3 186.8h.01M527.4 187.5h.01M528.5 187.7h.01M529.7 188.1h.01M530.8 187.3h.01M531.9 187.7h.01M533.0 186.6h.01M534.2 187.4h.01M535.3 186.7h.01M536.4 187.1h.01M537.6 187.4h.01M538.7 187.2h.01M539.8 188.1h.01M541.0 186.9h.01M542.1 187.6h.01M543.2 188.1h.01M544.4 187.4h.01M545.5 186.7h.01M546.6 187.4h.01M547.8 189.3h.01M548.9 187.9h.01M550.0 187.4h.01M551.2 187.1h.01M552.3 188.1h.01M553.4 187.2h.01M554.5 186.9h.01M555.7 187.1h.01M556.8 188.8h.01M557.9 187.9h.01M559.1 188.0h.01M560.2 187.9h.01M561.3 187.5h.01M562.5 186.6h.01M563.6 187.5h.01M564.7 188.3h.01M565.9 188.5h.01M567.0 187.0h.01M568.1 188.2h.01M569.3 187.6h.01M570.4 186.3h.01M571.5 186.2h.01M572.6 186.2h.01M573.8 188.3h.01M574.9 186.1h.01M576.0 187.4h.01M577.2 186.5h.01M578.3 187.3h.01M579.4 186.5h.01M580.6 187.3h.01M581.7 187.3h.01M582.8 187.4h.01M584.0 188.0h.01M585.1 187.3h.01M586.2 186.6h.01M587.4 188.2h.01M588.5 187.2h.01M589.6 188.1h.01M590.7 188.2h.01M591.9 188.6h.01M593.0 185.9h.01M594.1 187.2h.01M595.3 187.5h.01M596.4 186.5h.01M597.5 188.9h.01M598.7 187.2h.01M599.8 187.8h.01M600.9 186.7h.01M602.1 188.3h.01M603.2 187.1h.01M604.3 187.2h.01M605.5 186.1h.01M606.6 187.5h.01M607.7 187.2h.01M608.9 186.7h.01M610.0 186.7h.01M611.1 186.6h.01M612.2 186.9h.01M613.4 187.8h.01M614.5 186.0h.01M615.6 185.5h.01M616.8 186.8h.01M617.9 187.4h.01M619.0 186.0h.01M620.2 187.6h.01M621.3 186.6h.01M622.4 188.0h.01M623.6 185.7h.01M624.7 187.7h.01M625.8 186.5h.01M627.0 187.2h.01M628.1 187.1h.01M629.2 187.6h.01M630.3 186.7h.01M631.5 187.5h.01M632.6 185.8h.01M633.7 187.3h.01M634.9 186.6h.01M636.0 185.9h.01M637.1 185.9h.01M638.3 185.7h.01M639.4 185.6h.01M640.5 186.1h.01M641.7 185.8h.01M642.8 185.6h.01M643.9 187.4h.01M645.1 186.3h.01M646.2 186.2h.01M647.3 186.3h.01M648.5 185.7h.01M649.6 187.0h.01M650.7 187.3h.01M651.8 186.6h.01M653.0 185.7h.01M654.1 186.8h.01M655.2 187.9h.01M656.4 185.0h.01M657.5 185.0h.01M658.6 185.5h.01M659.8 186.1h.01M660.9 186.1h.01M662.0 186.9h.01M663.2 186.7h.01M664.3 185.2h.01M665.4 186.2h.01M666.6 184.8h.01M667.7 185.9h.01M668.8 187.5h.01M669.9 185.6h.01M671.1 184.4h.01M672.2 185.4h.01M673.3 186.2h.01M674.5 186.2h.01M675.6 185.1h.01M676.7 186.2h.01M677.9 186.6h.01M679.0 185.4h.01M680.1 185.4h.01M681.3 186.1h.01M682.4 186.3h.01M683.5 185.1h.01M684.7 186.9h.01M685.8 185.9h.01M686.9 185.8h.01M688.0 183.9h.01M689.2 186.1h.01M690.3 184.7h.01M691.4 185.4h.01M692.6 184.3h.01M693.7 184.0h.01M694.8 185.4h.01M696.0 185.0h.01M697.1 185.9h.01M698.2 185.4h.01M699.4 184.5h.01M700.5 186.1h.01M701.6 185.7h.01M702.8 185.0h.01M703.9 185.3h.01M705.0 185.3h.01M706.2 186.7h.01M707.3 185.3h.01M708.4 185.1h.01M709.5 185.0h.01M710.7 184.9h.01M711.8 184.3h.01M712.9 183.2h.01M714.1 185.9h.01M715.2 185.7h.01M716.3 184.5h.01M717.5 186.7h.01M718.6 185.8h.01M719.7 185.7h.01M720.9 185.8h.01M722.0 185.8h.01M723.1 185.9h.01M724.3 185.6h.01M725.4 184.6h.01M726.5 183.7h.01M727.6 186.2h.01M728.8 184.5h.01M729.9 184.4h.01M731.0 184.5h.01M732.2 183.4h.01M733.3 184.5h.01M734.4 183.8h.01M735.6 185.4h.01M736.7 185.8h.01M737.8 183.7h.01M739.0 184.5h.01M740.1 185.8h.01M741.2 184.8h.01M742.4 184.1h.01M743.5 185.4h.01M744.6 184.4h.01M745.8 185.8h.01M746.9 184.2h.01M748.0 184.5h.01M749.1 184.8h.01M750.3 184.9h.01M751.4 184.8h.01M752.5 183.6h.01M753.7 183.7h.01M754.8 186.3h.01M755.9 185.5h.01M757.1 184.8h.01M758.2 184.6h.01M759.3 185.5h.01M760.5 183.9h.01M761.6 182.5h.01M762.7 185.5h.01M763.9 185.4h.01M765.0 184.5h.01M766.1 183.6h.01M767.2 183.9h.01M768.4 184.5h.01M769.5 184.1h.01M770.6 184.5h.01M771.8 184.5h.01M772.9 184.7h.01M774.0 184.9h.01M775.2 184.2h.01M776.3 184.6h.01M777.4 184.2h.01M778.6 184.8h.01M779.7 183.2h.01M780.8 184.3h.01M782.0 184.4h.01M783.1 183.1h.01M784.2 184.3h.01M785.4 184.2h.01M786.5 184.2h.01M787.6 185.7h.01M788.7 183.6h.01M789.9 185.5h.01M791.0 183.4h.01M792.1 183.8h.01M793.3 184.6h.01M794.4 185.3h.01M795.5 183.8h.01M796.7 184.6h.01M797.8 183.1h.01M798.9 184.6h.01M800.1 184.2h.01M801.2 184.3h.01M802.3 185.2h.01M803.5 185.5h.01M804.6 183.6h.01M805.7 183.9h.01M806.8 184.3h.01M808.0 184.7h.01M809.1 183.6h.01M810.2 184.9h.01M811.4 183.4h.01M812.5 183.9h.01M813.6 184.9h.01M814.8 184.5h.01M815.9 184.3h.01M817.0 184.5h.01M818.2 183.8h.01M819.3 184.8h.01M820.4 184.8h.01M821.6 184.9h.01M822.7 184.7h.01M823.8 183.6h.01M824.9 183.5h.01M826.1 185.9h.01M827.2 183.7h.01M828.3 185.0h.01M829.5 184.0h.01M830.6 183.6h.01M831.7 182.6h.01M832.9 184.1h.01M834.0 183.5h.01M835.1 184.5h.01M836.3 185.6h.01M837.4 185.2h.01M838.5 183.2h.01M839.7 184.7h.01M840.8 184.1h.01M841.9 182.9h.01M843.1 183.1h.01M844.2 184.2h.01M845.3 184.1h.01M846.4 184.7h.01M847.6 182.5h.01M848.7 184.5h.01M849.8 183.6h.01M851.0 183.6h.01M852.1 183.7h.01M853.2 182.7h.01M854.4 184.9h.01M855.5 184.3h.01M856.6 183.3h.01M857.8 183.7h.01M858.9 182.7h.01M860.0 184.8h.01M861.2 182.7h.01M862.3 184.2h.01M863.4 183.7h.01M864.5 181.8h.01M865.7 183.0h.01M866.8 184.6h.01M867.9 182.7h.01M869.1 183.7h.01M870.2 182.4h.01M871.3 182.8h.01M872.5 183.1h.01M873.6 183.8h.01M874.7 183.3h.01M875.9 185.2h.01M877.0 183.1h.01M878.1 182.1h.01M879.3 183.6h.01M880.4 184.0h.01M881.5 183.0h.01M882.7 182.5h.01M883.8 183.1h.01M884.9 184.6h.01M886.0 183.4h.01M887.2 183.0h.01M888.3 182.6h.01M889.4 184.4h.01M890.6 182.9h.01M891.7 181.9h.01M892.8 181.6h.01M894.0 184.0h.01M895.1 183.8h.01M896.2 183.0h.01M897.4 183.3h.01M898.5 183.1h.01M899.6 182.6h.01M900.8 182.5h.01M901.9 183.4h.01M903.0 184.1h.01M904.1 184.3h.01M905.3 184.1h.01M906.4 184.4h.01M907.5 184.2h.01M908.7 181.6h.01M909.8 183.7h.01M156.3 217.5h.01M162.5 209.2h.01M165.4 200.4h.01M172.5 204.4h.01M192.3 200.4h.01M291.5 211.3h.01M250.4 195.5h.01M258.3 195.5h.01M296.3 195.5h.01M307.0 196.2h.01M362.3 202.3h.01M386.3 198.3h.01M424.2 196.5h.01M445.0 197.3h.01M439.4 213.3h.01M463.3 210.2h.01M486.3 212.3h.01M519.4 193.3h.01M526.9 196.5h.01M535.4 195.4h.01M536.9 196.5h.01M543.1 197.3h.01M576.5 206.5h.01M612.5 207.3h.01M593.8 192.5h.01M621.9 197.3h.01M623.3 194.4h.01M624.6 191.9h.01M630.8 194.4h.01M658.3 197.3h.01M664.2 201.3h.01M663.1 196.5h.01M674.0 192.5h.01M680.2 194.4h.01M695.2 191.9h.01M796.5 200.4h.01M811.5 196.5h.01M812.5 190.4h.01M837.1 191.3h.01M853.3 199.4h.01M860.2 191.3h.01M876.5 193.3h.01M881.7 194.4h.01M710.4 188.8h.01M719.4 188.8h.01M731.3 189.8h.01" fill="none" stroke="#000099" stroke-width="6.0" stroke-linecap="round" />
<path d="M122.3 492.3L123.5 491.7L124.6 493.1L125.7 493.2L126.9 491.3L128.0 491.0L129.1 492.6L130.3 491.1L131.4 491.8L132.5 492.0L133.7 490.2L134.8 492.1L135.9 493.2L137.1 491.9L138.2 492.1L139.3 490.5L140.5 494.0L141.6 491.0L142.7 491.8L143.8 493.7L145.0 491.3L146.1 492.2L147.2 491.4L148.4 491.9L149.5 491.9L150.6 491.7L151.8 490.9L152.9 491.7L154.0 491.3L155.2 492.7L156.3 490.1L157.4 492.7L158.6 490.9L159.7 491.5L160.8 492.4L161.9 491.7L163.1 491.3L164.2 492.2L165.3 493.2L166.5 492.5L167.6 490.7L168.7 492.4L169.9 492.8L171.0 489.5L172.1 488.9L173.3 488.2L174.4 489.5L175.5 490.1L176.7 489.5L177.8 490.0L178.9 490.5L180.1 488.9L181.2 494.0L182.3 494.5L183.4 490.5L184.6 491.6L185.7 492.3L186.8 493.3L188.0 491.7L189.1 492.0L190.2 491.1L191.4 490.8L192.5 490.8L193.6 492.5L194.8 492.4L195.9 490.9L197.0 492.0L198.2 492.4L199.3 492.3L200.4 491.4L201.5 491.3L202.7 491.3L203.8 491.7L204.9 491.4L206.1 491.2L207.2 491.0L208.3 490.6L209.5 491.9L210.6 491.9L211.7 491.8L212.9 491.4L214.0 492.3L215.1 490.4L216.3 492.7L217.4 491.6L218.5 492.3L219.7 492.4L220.8 491.9L221.9 490.5L223.0 492.8L224.2 492.7L225.3 492.7L226.4 492.9L227.6 490.6L228.7 493.3L229.8 491.8L231.0 491.6L232.1 491.5L233.2 490.7L234.4 491.5L235.5 492.5L236.6 492.2L237.8 491.5L238.9 492.5L240.0 492.5L241.1 491.7L242.3 492.2L243.4 490.3L244.5 492.3L245.7 491.5L246.8 495.4L247.9 495.4L249.1 491.6L250.2 492.3L251.3 491.7L252.5 492.1L253.6 491.0L254.7 492.8L255.9 491.8L257.0 495.0L258.1 492.2L259.2 497.2L260.4 496.1L261.5 494.2L262.6 488.8L263.8 492.2L264.9 491.6L266.0 492.2L267.2 493.8L268.3 494.0L269.4 490.7L270.6 495.0L271.7 492.7L272.8 492.4L274.0 490.4L275.1 491.8L276.2 492.3L277.4 491.6L278.5 490.3L279.6 492.0L280.7 492.6L281.9 492.1L283.0 493.8L284.1 491.2L285.3 491.8L286.4 490.9L287.5 491.6L288.7 491.6L289.8 490.8L290.9 491.3L292.1 491.9L293.2 491.7L294.3 491.0L295.5 491.4L296.6 492.7L297.7 492.0L298.8 491.7L300.0 490.8L301.1 492.4L302.2 493.6L303.4 492.5L304.5 492.3L305.6 490.7L306.8 491.4L307.9 493.2L309.0 491.2L310.2 490.5L311.3 491.5L312.4 492.9L313.6 490.5L314.7 491.3L315.8 492.8L317.0 490.0L318.1 491.8L319.2 493.8L320.3 491.7L321.5 492.1L322.6 491.4L323.7 491.6L324.9 492.8L326.0 491.6L327.1 491.3L328.3 492.1L329.4 492.1L330.5 493.0L331.7 492.1L332.8 492.5L333.9 492.1L335.1 492.4L336.2 493.6L337.3 494.0L338.4 495.1L339.6 492.2L340.7 495.4L341.8 492.0L343.0 494.1L344.1 490.5L345.2 493.6L346.4 493.1L347.5 492.0L348.6 493.1L349.8 492.2L350.9 489.7L352.0 491.7L353.2 491.9L354.3 491.4L355.4 491.5L356.5 491.6L357.7 491.9L358.8 495.3L359.9 498.9L361.1 495.4L362.2 492.0L363.3 491.9L364.5 493.0L365.6 492.7L366.7 493.4L367.9 494.3L369.0 490.6L370.1 498.5L371.3 492.1L372.4 495.3L373.5 491.3L374.7 491.3L375.8 492.7L376.9 492.0L378.0 491.4L379.2 491.4L380.3 491.2L381.4 491.1L382.6 491.7L383.7 492.4L384.8 493.4L386.0 492.3L387.1 491.7L388.2 491.4L389.4 491.7L390.5 492.2L391.6 492.6L392.8 491.7L393.9 492.4L395.0 492.1L396.1 491.4L397.3 492.2L398.4 492.2L399.5 491.8L400.7 492.2L401.8 491.7L402.9 491.3L404.1 492.1L405.2 491.4L406.3 492.4L407.5 491.9L408.6 492.1L409.7 493.0L410.9 492.1L412.0 491.8L413.1 492.1L414.3 492.5L415.4 491.8L416.5 492.3L417.6 491.7L418.8 491.7L419.9 491.8L421.0 492.1L422.2 492.0L423.3 491.4L424.4 491.3L425.6 491.9L426.7 492.9L427.8 492.5L429.0 492.5L430.1 491.4L431.2 492.5L432.4 491.5L433.5 491.9L434.6 492.1L435.7 491.5L436.9 493.1L438.0 497.6L439.1 496.4L440.3 492.3L441.4 492.0L442.5 491.6L443.7 492.9L444.8 491.6L445.9 492.1L447.1 491.7L448.2 492.1L449.3 492.2L450.5 496.7L451.6 492.5L452.7 492.3L453.9 492.0L455.0 492.5L456.1 491.9L457.2 491.9L458.4 491.9L459.5 491.8L460.6 491.8L461.8 492.3L462.9 491.8L464.0 492.0L465.2 491.9L466.3 492.7L467.4 492.2L468.6 492.4L469.7 492.3L470.8 492.2L472.0 492.2L473.1 492.1L474.2 492.4L475.3 492.5L476.5 492.2L477.6 492.3L478.7 491.9L479.9 492.0L481.0 491.7L482.1 492.4L483.3 492.0L484.4 492.1L485.5 492.0L486.7 492.5L487.8 491.4L488.9 492.0L490.1 491.5L491.2 492.3L492.3 492.0L493.4 491.7L494.6 492.0L495.7 492.0L496.8 492.2L498.0 491.3M505.9 494.2L507.0 494.2L508.2 494.7L509.3 494.9L510.4 493.7L511.6 493.4L512.7 493.5L513.8 493.4L514.9 498.3L516.1 493.5L517.2 493.0L518.3 493.4L519.5 494.3L520.6 493.6L521.7 494.0L522.9 493.4L524.0 494.2L525.1 494.9L526.3 495.0L527.4 493.3L528.5 494.7L529.7 493.3L530.8 494.1L531.9 494.0L533.0 494.0L534.2 494.4L535.3 493.1L536.4 495.0L537.6 493.9L538.7 493.0L539.8 493.8L541.0 494.0L542.1 494.5L543.2 494.0L544.4 493.6L545.5 493.2L546.6 494.5L547.8 494.8L548.9 493.8L550.0 491.9L551.2 493.4L552.3 495.2L553.4 498.4L554.5 494.1L555.7 493.7L556.8 493.9L557.9 494.8L559.1 495.0L560.2 493.3L561.3 493.2L562.5 494.5L563.6 494.8L564.7 493.2L565.9 494.2L567.0 493.2L568.1 494.1L569.3 492.0L570.4 494.5L571.5 494.5L572.6 494.1L573.8 494.3L574.9 494.5L576.0 493.4L577.2 494.4L578.3 494.5L579.4 494.0L580.6 495.1L581.7 494.4L582.8 497.9L584.0 493.7L585.1 493.6L586.2 493.3L587.4 493.3L588.5 494.4L589.6 493.0L590.7 494.1L591.9 494.9L593.0 493.2L594.1 496.1L595.3 497.7L596.4 494.0L597.5 494.3L598.7 494.5L599.8 494.8L600.9 493.7L602.1 494.4L603.2 495.1L604.3 494.9L605.5 494.3L606.6 493.2L607.7 492.7L608.9 493.7L610.0 493.7L611.1 493.3L612.2 494.8L613.4 493.5L614.5 495.1L615.6 497.9L616.8 491.8L617.9 493.3L619.0 494.6L620.2 492.5L621.3 495.0L622.4 496.8L623.6 494.6L624.7 494.7L625.8 495.0L627.0 493.5L628.1 495.0L629.2 493.1L630.3 493.3L631.5 495.1L632.6 494.0L633.7 491.6L634.9 493.4L636.0 493.0L637.1 494.6L638.3 497.1L639.4 496.3L640.5 494.7L641.7 494.2L642.8 494.5L643.9 493.9L645.1 494.0L646.2 493.7L647.3 493.5L648.5 494.5L649.6 495.1L650.7 493.6L651.8 494.5L653.0 498.2L654.1 493.0L655.2 493.6L656.4 495.0L657.5 498.1L658.6 493.1L659.8 493.1L660.9 498.0L662.0 493.5L663.2 497.1L664.3 496.1L665.4 493.3L666.6 494.8L667.7 494.4L668.8 493.3L669.9 493.9L671.1 493.6L672.2 494.1L673.3 494.5L674.5 493.7L675.6 496.4L676.7 494.2L677.9 495.2L679.0 493.4L680.1 493.7L681.3 494.4L682.4 493.3L683.5 494.5L684.7 494.4L685.8 494.5L686.9 493.2L688.0 493.0L689.2 495.1L690.3 494.5L691.4 494.1L692.6 497.8L693.7 494.8L694.8 495.0L696.0 493.9L697.1 493.9L698.2 494.8L699.4 494.9L700.5 495.0L701.6 494.1L702.8 493.9L703.9 493.9L705.0 495.0L706.2 494.0L707.3 494.9L708.4 495.0L709.5 494.8L710.7 493.5L711.8 495.1L712.9 495.2L714.1 494.5L715.2 493.2L716.3 493.9L717.5 494.8L718.6 493.5L719.7 494.9L720.9 493.1L722.0 493.8L723.1 493.4L724.3 493.7L725.4 494.2L726.5 493.1L727.6 493.4L728.8 494.5L729.9 494.9L731.0 493.6L732.2 495.2L733.3 494.1L734.4 495.1L735.6 493.7L736.7 494.8L737.8 493.2L739.0 494.5L740.1 492.0L741.2 494.4L742.4 497.7L743.5 497.3L744.6 494.2L745.8 494.9L746.9 494.6L748.0 493.9L749.1 491.1L750.3 493.5L751.4 496.5L752.5 497.3L753.7 497.4L754.8 497.1L755.9 496.6L757.1 496.6L758.2 497.8L759.3 496.3L760.5 497.1L761.6 497.1L762.7 496.2L763.9 496.9L765.0 497.4L766.1 497.2L767.2 497.2L768.4 497.3L769.5 497.0L770.6 496.5L771.8 496.7L772.9 497.5L774.0 495.7L775.2 497.3L776.3 496.8L777.4 496.9L778.6 496.6L779.7 497.0L780.8 496.7L782.0 496.0L783.1 496.8L784.2 497.4L785.4 496.7L786.5 497.2L787.6 497.0L788.7 496.8L789.9 496.7L791.0 497.0L792.1 496.5L793.3 497.0L794.4 497.5L795.5 496.5L796.7 497.0L797.8 496.4L798.9 497.2L799.2 491.5L800.1 496.6L801.2 496.8L802.3 498.1L803.5 497.5L804.6 497.4L805.7 496.3L806.8 497.7L808.0 496.5L809.1 496.4L810.2 496.7L811.4 496.6L812.5 497.1L813.6 496.9L814.8 496.8L815.9 496.7L817.0 496.6L818.2 497.0L819.3 497.2L820.4 497.1L821.6 496.7L822.7 497.6L823.8 497.4L824.9 497.1L826.1 497.1L827.2 497.0L828.3 498.0L829.5 497.0L830.6 497.0L831.7 496.6L832.9 497.7L834.0 497.0L835.1 496.7L836.3 496.7L837.4 496.4L838.5 496.4L839.7 497.3L840.8 496.6L841.9 497.0L843.1 497.2L844.2 496.2L845.3 497.2L846.4 497.3L847.6 497.1L848.7 497.3L849.8 496.5L851.0 496.7L852.1 496.3L853.2 496.7L854.4 497.2L855.5 496.4L856.6 497.2L857.8 497.1L858.9 497.0L860.0 496.9L861.2 496.4L862.3 497.1L863.4 496.7L864.5 496.9L865.7 497.4L866.8 497.4L867.9 497.0L869.1 496.7L870.2 496.7L871.3 496.7L872.5 496.9L873.6 497.1L874.7 496.7L875.9 497.3L877.0 497.5L878.1 497.0L879.3 497.5L880.4 497.1L881.5 497.2L882.7 497.1L883.8 496.9L884.9 497.2L886.0 497.1L887.2 497.6L888.3 496.8L889.4 497.3L890.6 496.7L891.7 498.1L892.8 497.2L894.0 496.8L895.1 497.9L896.2 497.0L897.4 496.8L898.5 496.8L899.6 497.5L900.8 496.8L901.9 496.8L903.0 497.3L904.1 496.6L905.3 496.9L906.4 496.9L907.5 497.1L908.7 496.6L909.8 496.8L910.9 496.4" fill="none" stroke="#bf8dcf" stroke-width="0.8"/>
<path d="M122.3 492.3h.01M123.5 491.7h.01M124.6 493.1h.01M125.7 493.2h.01M126.9 491.3h.01M128.0 491.0h.01M129.1 492.6h.01M130.3 491.1h.01M131.4 491.8h.01M132.5 492.0h.01M133.7 490.2h.01M134.8 492.1h.01M135.9 493.2h.01M137.1 491.9h.01M138.2 492.1h.01M139.3 490.5h.01M140.5 494.0h.01M141.6 491.0h.01M142.7 491.8h.01M143.8 493.7h.01M145.0 491.3h.01M146.1 492.2h.01M147.2 491.4h.01M148.4 491.9h.01M149.5 491.9h.01M150.6 491.7h.01M151.8 490.9h.01M152.9 491.7h.01M154.0 491.3h.01M155.2 492.7h.01M156.3 490.1h.01M157.4 492.7h.01M158.6 490.9h.01M159.7 491.5h.01M160.8 492.4h.01M161.9 491.7h.01M163.1 491.3h.01M164.2 492.2h.01M165.3 493.2h.01M166.5 492.5h.01M167.6 490.7h.01M168.7 492.4h.01M169.9 492.8h.01M171.0 489.5h.01M172.1 488.9h.01M173.3 488.2h.01M174.4 489.5h.01M175.5 490.1h.01M176.7 489.5h.01M177.8 490.0h.01M178.9 490.5h.01M180.1 488.9h.01M181.2 494.0h.01M182.3 494.5h.01M183.4 490.5h.01M184.6 491.6h.01M185.7 492.3h.01M186.8 493.3h.01M188.0 491.7h.01M189.1 492.0h.01M190.2 491.1h.01M191.4 490.8h.01M192.5 490.8h.01M193.6 492.5h.01M194.8 492.4h.01M195.9 490.9h.01M197.0 492.0h.01M198.2 492.4h.01M199.3 492.3h.01M200.4 491.4h.01M201.5 491.3h.01M202.7 491.3h.01M203.8 491.7h.01M204.9 491.4h.01M206.1 491.2h.01M207.2 491.0h.01M208.3 490.6h.01M209.5 491.9h.01M210.6 491.9h.01M211.7 491.8h.01M212.9 491.4h.01M214.0 492.3h.01M215.1 490.4h.01M216.3 492.7h.01M217.4 491.6h.01M218.5 492.3h.01M219.7 492.4h.01M220.8 491.9h.01M221.9 490.5h.01M223.0 492.8h.01M224.2 492.7h.01M225.3 492.7h.01M226.4 492.9h.01M227.6 490.6h.01M228.7 493.3h.01M229.8 491.8h.01M231.0 491.6h.01M232.1 491.5h.01M233.2 490.7h.01M234.4 491.5h.01M235.5 492.5h.01M236.6 492.2h.01M237.8 491.5h.01M238.9 492.5h.01M240.0 492.5h.01M241.1 491.7h.01M242.3 492.2h.01M243.4 490.3h.01M244.5 492.3h.01M245.7 491.5h.01M246.8 495.4h.01M247.9 495.4h.01M249.1 491.6h.01M250.2 492.3h.01M251.3 491.7h.01M252.5 492.1h.01M253.6 491.0h.01M254.7 492.8h.01M255.9 491.8h.01M257.0 495.0h.01M258.1 492.2h.01M259.2 497.2h.01M260.4 496.1h.01M261.5 494.2h.01M262.6 488.8h.01M263.8 492.2h.01M264.9 491.6h.01M266.0 492.2h.01M267.2 493.8h.01M268.3 494.0h.01M269.4 490.7h.01M270.6 495.0h.01M271.7 492.7h.01M272.8 492.4h.01M274.0 490.4h.01M275.1 491.8h.01M276.2 492.3h.01M277.4 491.6h.01M278.5 490.3h.01M279.6 492.0h.01M280.7 492.6h.01M281.9 492.1h.01M283.0 493.8h.01M284.1 491.2h.01M285.3 491.8h.01M286.4 490.9h.01M287.5 491.6h.01M288.7 491.6h.01M289.8 490.8h.01M290.9 491.3h.01M292.1 491.9h.01M293.2 491.7h.01M294.3 491.0h.01M295.5 491.4h.01M296.6 492.7h.01M297.7 492.0h.01M298.8 491.7h.01M300.0 490.8h.01M301.1 492.4h.01M302.2 493.6h.01M303.4 492.5h.01M304.5 492.3h.01M305.6 490.7h.01M306.8 491.4h.01M307.9 493.2h.01M309.0 491.2h.01M310.2 490.5h.01M311.3 491.5h.01M312.4 492.9h.01M313.6 490.5h.01M314.7 491.3h.01M315.8 492.8h.01M317.0 490.0h.01M318.1 491.8h.01M319.2 493.8h.01M320.3 491.7h.01M321.5 492.1h.01M322.6 491.4h.01M323.7 491.6h.01M324.9 492.8h.01M326.0 491.6h.01M327.1 491.3h.01M328.3 492.1h.01M329.4 492.1h.01M330.5 493.0h.01M331.7 492.1h.01M332.8 492.5h.01M333.9 492.1h.01M335.1 492.4h.01M336.2 493.6h.01M337.3 494.0h.01M338.4 495.1h.01M339.6 492.2h.01M340.7 495.4h.01M341.8 492.0h.01M343.0 494.1h.01M344.1 490.5h.01M345.2 493.6h.01M346.4 493.1h.01M347.5 492.0h.01M348.6 493.1h.01M349.8 492.2h.01M350.9 489.7h.01M352.0 491.7h.01M353.2 491.9h.01M354.3 491.4h.01M355.4 491.5h.01M356.5 491.6h.01M357.7 491.9h.01M358.8 495.3h.01M359.9 498.9h.01M361.1 495.4h.01M362.2 492.0h.01M363.3 491.9h.01M364.5 493.0h.01M365.6 492.7h.01M366.7 493.4h.01M367.9 494.3h.01M369.0 490.6h.01M370.1 498.5h.01M371.3 492.1h.01M372.4 495.3h.01M373.5 491.3h.01M374.7 491.3h.01M375.8 492.7h.01M376.9 492.0h.01M378.0 491.4h.01M379.2 491.4h.01M380.3 491.2h.01M381.4 491.1h.01M382.6 491.7h.01M383.7 492.4h.01M384.8 493.4h.01M386.0 492.3h.01M387.1 491.7h.01M388.2 491.4h.01M389.4 491.7h.01M390.5 492.2h.01M391.6 492.6h.01M392.8 491.7h.01M393.9 492.4h.01M395.0 492.1h.01M396.1 491.4h.01M397.3 492.2h.01M398.4 492.2h.01M399.5 491.8h.01M400.7 492.2h.01M401.8 491.7h.01M402.9 491.3h.01M404.1 492.1h.01M405.2 491.4h.01M406.3 492.4h.01M407.5 491.9h.01M408.6 492.1h.01M409.7 493.0h.01M410.9 492.1h.01M412.0 491.8h.01M413.1 492.1h.01M414.3 492.5h.01M415.4 491.8h.01M416.5 492.3h.01M417.6 491.7h.01M418.8 491.7h.01M419.9 491.8h.01M421.0 492.1h.01M422.2 492.0h.01M423.3 491.4h.01M424.4 491.3h.01M425.6 491.9h.01M426.7 492.9h.01M427.8 492.5h.01M429.0 492.5h.01M430.1 491.4h.01M431.2 492.5h.01M432.4 491.5h.01M433.5 491.9h.01M434.6 492.1h.01M435.7 491.5h.01M436.9 493.1h.01M438.0 497.6h.01M439.1 496.4h.01M440.3 492.3h.01M441.4 492.0h.01M442.5 491.6h.01M443.7 492.9h.01M444.8 491.6h.01M445.9 492.1h.01M447.1 491.7h.01M448.2 492.1h.01M449.3 492.2h.01M450.5 496.7h.01M451.6 492.5h.01M452.7 492.3h.01M453.9 492.0h.01M455.0 492.5h.01M456.1 491.9h.01M457.2 491.9h.01M458.4 491.9h.01M459.5 491.8h.01M460.6 491.8h.01M461.8 492.3h.01M462.9 491.8h.01M464.0 492.0h.01M465.2 491.9h.01M466.3 492.7h.01M467.4 492.2h.01M468.6 492.4h.01M469.7 492.3h.01M470.8 492.2h.01M472.0 492.2h.01M473.1 492.1h.01M474.2 492.4h.01M475.3 492.5h.01M476.5 492.2h.01M477.6 492.3h.01M478.7 491.9h.01M479.9 492.0h.01M481.0 491.7h.01M482.1 492.4h.01M483.3 492.0h.01M484.4 492.1h.01M485.5 492.0h.01M486.7 492.5h.01M487.8 491.4h.01M488.9 492.0h.01M490.1 491.5h.01M491.2 492.3h.01M492.3 492.0h.01M493.4 491.7h.01M494.6 492.0h.01M495.7 492.0h.01M496.8 492.2h.01M498.0 491.3h.01M505.9 494.2h.01M507.0 494.2h.01M508.2 494.7h.01M509.3 494.9h.01M510.4 493.7h.01M511.6 493.4h.01M512.7 493.5h.01M513.8 493.4h.01M514.9 498.3h.01M516.1 493.5h.01M517.2 493.0h.01M518.3 493.4h.01M519.5 494.3h.01M520.6 493.6h.01M521.7 494.0h.01M522.9 493.4h.01M524.0 494.2h.01M525.1 494.9h.01M526.3 495.0h.01M527.4 493.3h.01M528.5 494.7h.01M529.7 493.3h.01M530.8 494.1h.01M531.9 494.0h.01M533.0 494.0h.01M534.2 494.4h.01M535.3 493.1h.01M536.4 495.0h.01M537.6 493.9h.01M538.7 493.0h.01M539.8 493.8h.01M541.0 494.0h.01M542.1 494.5h.01M543.2 494.0h.01M544.4 493.6h.01M545.5 493.2h.01M546.6 494.5h.01M547.8 494.8h.01M548.9 493.8h.01M550.0 491.9h.01M551.2 493.4h.01M552.3 495.2h.01M553.4 498.4h.01M554.5 494.1h.01M555.7 493.7h.01M556.8 493.9h.01M557.9 494.8h.01M559.1 495.0h.01M560.2 493.3h.01M561.3 493.2h.01M562.5 494.5h.01M563.6 494.8h.01M564.7 493.2h.01M565.9 494.2h.01M567.0 493.2h.01M568.1 494.1h.01M569.3 492.0h.01M570.4 494.5h.01M571.5 494.5h.01M572.6 494.1h.01M573.8 494.3h.01M574.9 494.5h.01M576.0 493.4h.01M577.2 494.4h.01M578.3 494.5h.01M579.4 494.0h.01M580.6 495.1h.01M581.7 494.4h.01M582.8 497.9h.01M584.0 493.7h.01M585.1 493.6h.01M586.2 493.3h.01M587.4 493.3h.01M588.5 494.4h.01M589.6 493.0h.01M590.7 494.1h.01M591.9 494.9h.01M593.0 493.2h.01M594.1 496.1h.01M595.3 497.7h.01M596.4 494.0h.01M597.5 494.3h.01M598.7 494.5h.01M599.8 494.8h.01M600.9 493.7h.01M602.1 494.4h.01M603.2 495.1h.01M604.3 494.9h.01M605.5 494.3h.01M606.6 493.2h.01M607.7 492.7h.01M608.9 493.7h.01M610.0 493.7h.01M611.1 493.3h.01M612.2 494.8h.01M613.4 493.5h.01M614.5 495.1h.01M615.6 497.9h.01M616.8 491.8h.01M617.9 493.3h.01M619.0 494.6h.01M620.2 492.5h.01M621.3 495.0h.01M622.4 496.8h.01M623.6 494.6h.01M624.7 494.7h.01M625.8 495.0h.01M627.0 493.5h.01M628.1 495.0h.01M629.2 493.1h.01M630.3 493.3h.01M631.5 495.1h.01M632.6 494.0h.01M633.7 491.6h.01M634.9 493.4h.01M636.0 493.0h.01M637.1 494.6h.01M638.3 497.1h.01M639.4 496.3h.01M640.5 494.7h.01M641.7 494.2h.01M642.8 494.5h.01M643.9 493.9h.01M645.1 494.0h.01M646.2 493.7h.01M647.3 493.5h.01M648.5 494.5h.01M649.6 495.1h.01M650.7 493.6h.01M651.8 494.5h.01M653.0 498.2h.01M654.1 493.0h.01M655.2 493.6h.01M656.4 495.0h.01M657.5 498.1h.01M658.6 493.1h.01M659.8 493.1h.01M660.9 498.0h.01M662.0 493.5h.01M663.2 497.1h.01M664.3 496.1h.01M665.4 493.3h.01M666.6 494.8h.01M667.7 494.4h.01M668.8 493.3h.01M669.9 493.9h.01M671.1 493.6h.01M672.2 494.1h.01M673.3 494.5h.01M674.5 493.7h.01M675.6 496.4h.01M676.7 494.2h.01M677.9 495.2h.01M679.0 493.4h.01M680.1 493.7h.01M681.3 494.4h.01M682.4 493.3h.01M683.5 494.5h.01M684.7 494.4h.01M685.8 494.5h.01M686.9 493.2h.01M688.0 493.0h.01M689.2 495.1h.01M690.3 494.5h.01M691.4 494.1h.01M692.6 497.8h.01M693.7 494.8h.01M694.8 495.0h.01M696.0 493.9h.01M697.1 493.9h.01M698.2 494.8h.01M699.4 494.9h.01M700.5 495.0h.01M701.6 494.1h.01M702.8 493.9h.01M703.9 493.9h.01M705.0 495.0h.01M706.2 494.0h.01M707.3 494.9h.01M708.4 495.0h.01M709.5 494.8h.01M710.7 493.5h.01M711.8 495.1h.01M712.9 495.2h.01M714.1 494.5h.01M715.2 493.2h.01M716.3 493.9h.01M717.5 494.8h.01M718.6 493.5h.01M719.7 494.9h.01M720.9 493.1h.01M722.0 493.8h.01M723.1 493.4h.01M724.3 493.7h.01M725.4 494.2h.01M726.5 493.1h.01M727.6 493.4h.01M728.8 494.5h.01M729.9 494.9h.01M731.0 493.6h.01M732.2 495.2h.01M733.3 494.1h.01M734.4 495.1h.01M735.6 493.7h.01M736.7 494.8h.01M737.8 493.2h.01M739.0 494.5h.01M740.1 492.0h.01M741.2 494.4h.01M742.4 497.7h.01M743.5 497.3h.01M744.6 494.2h.01M745.8 494.9h.01M746.9 494.6h.01M748.0 493.9h.01M749.1 491.1h.01M750.3 493.5h.01M751.4 496.5h.01M752.5 497.3h.01M753.7 497.4h.01M754.8 497.1h.01M755.9 496.6h.01M757.1 496.6h.01M758.2 497.8h.01M759.3 496.3h.01M760.5 497.1h.01M761.6 497.1h.01M762.7 496.2h.01M763.9 496.9h.01M765.0 497.4h.01M766.1 497.2h.01M767.2 497.2h.01M768.4 497.3h.01M769.5 497.0h.01M770.6 496.5h.01M771.8 496.7h.01M772.9 497.5h.01M774.0 495.7h.01M775.2 497.3h.01M776.3 496.8h.01M777.4 496.9h.01M778.6 496.6h.01M779.7 497.0h.01M780.8 496.7h.01M782.0 496.0h.01M783.1 496.8h.01M784.2 497.4h.01M785.4 496.7h.01M786.5 497.2h.01M787.6 497.0h.01M788.7 496.8h.01M789.9 496.7h.01M791.0 497.0h.01M792.1 496.5h.01M793.3 497.0h.01M794.4 497.5h.01M795.5 496.5h.01M796.7 497.0h.01M797.8 496.4h.01M798.9 497.2h.01M799.2 491.5h.01M800.1 496.6h.01M801.2 496.8h.01M802.3 498.1h.01M803.5 497.5h.01M804.6 497.4h.01M805.7 496.3h.01M806.8 497.7h.01M808.0 496.5h.01M809.1 496.4h.01M810.2 496.7h.01M811.4 496.6h.01M812.5 497.1h.01M813.6 496.9h.01M814.8 496.8h.01M815.9 496.7h.01M817.0 496.6h.01M818.2 497.0h.01M819.3 497.2h.01M820.4 497.1h.01M821.6 496.7h.01M822.7 497.6h.01M823.8 497.4h.01M824.9 497.1h.01M826.1 497.1h.01M827.2 497.0h.01M828.3 498.0h.01M829.5 497.0h.01M830.6 497.0h.01M831.7 496.6h.01M832.9 497.7h.01M834.0 497.0h.01M835.1 496.7h.01M836.3 496.7h.01M837.4 496.4h.01M838.5 496.4h.01M839.7 497.3h.01M840.8 496.6h.01M841.9 497.0h.01M843.1 497.2h.01M844.2 496.2h.01M845.3 497.2h.01M846.4 497.3h.01M847.6 497.1h.01M848.7 497.3h.01M849.8 496.5h.01M851.0 496.7h.01M852.1 496.3h.01M853.2 496.7h.01M854.4 497.2h.01M855.5 496.4h.01M856.6 497.2h.01M857.8 497.1h.01M858.9 497.0h.01M860.0 496.9h.01M861.2 496.4h.01M862.3 497.1h.01M863.4 496.7h.01M864.5 496.9h.01M865.7 497.4h.01M866.8 497.4h.01M867.9 497.0h.01M869.1 496.7h.01M870.2 496.7h.01M871.3 496.7h.01M872.5 496.9h.01M873.6 497.1h.01M874.7 496.7h.01M875.9 497.3h.01M877.0 497.5h.01M878.1 497.0h.01M879.3 497.5h.01M880.4 497.1h.01M881.5 497.2h.01M882.7 497.1h.01M883.8 496.9h.01M884.9 497.2h.01M886.0 497.1h.01M887.2 497.6h.01M888.3 496.8h.01M889.4 497.3h.01M890.6 496.7h.01M891.7 498.1h.01M892.8 497.2h.01M894.0 496.8h.01M895.1 497.9h.01M896.2 497.0h.01M897.4 496.8h.01M898.5 496.8h.01M899.6 497.5h.01M900.8 496.8h.01M901.9 496.8h.01M903.0 497.3h.01M904.1 496.6h.01M905.3 496.9h.01M906.4 496.9h.01M907.5 497.1h.01M908.7 496.6h.01M909.8 496.8h.01M910.9 496.4h.01" fill="none" stroke="#bf8dcf" stroke-width="5.6" stroke-linecap="round" />
<line x1="122.05" x2="950.5" y1="498.95" y2="498.95" stroke="#000" stroke-width="2.78" stroke-dasharray="2.78 4.58" stroke-dashoffset="-2.76"/>
<circle cx="950.5" cy="498.95" r="1.6" fill="#000"/>
<line x1="950.5" x2="950.5" y1="115" y2="135.5" stroke="#000" stroke-width="2.78"/><line x1="950.5" x2="950.5" y1="139.94" y2="502.8" stroke="#000" stroke-width="2.78" stroke-dasharray="10.28 4.44"/>
</g>
<line x1="122.05" x2="990.8000000000001" y1="124.8" y2="124.8" stroke="#000" stroke-width="2.5"/>
<line x1="950.5" x2="950.5" y1="115" y2="135.5" stroke="#000" stroke-width="2.78"/>
<text transform="translate(965.9 0) rotate(90) scale(0.8 1)" font-size="23" x="166.9 184.1 199.3" y="0">Now</text>
<rect x="122.05" y="112.1" width="867.15" height="390.70" fill="none" stroke="#000" stroke-width="2.2"/>
<g stroke="#000" stroke-width="2.2">
<line x1="112.35" x2="122.05" y1="498.95" y2="498.95"/>
<line x1="116.45" x2="122.05" y1="461.45" y2="461.45"/>
<line x1="112.35" x2="122.05" y1="423.95" y2="423.95"/>
<line x1="116.45" x2="122.05" y1="386.45" y2="386.45"/>
<line x1="112.35" x2="122.05" y1="348.95" y2="348.95"/>
<line x1="116.45" x2="122.05" y1="311.45" y2="311.45"/>
<line x1="112.35" x2="122.05" y1="273.95" y2="273.95"/>
<line x1="116.45" x2="122.05" y1="236.45" y2="236.45"/>
<line x1="112.35" x2="122.05" y1="198.95" y2="198.95"/>
<line x1="116.45" x2="122.05" y1="161.45" y2="161.45"/>
<line x1="112.35" x2="122.05" y1="124.80" y2="124.80"/>
<line x1="137.78" x2="137.78" y1="502.80" y2="508.40"/>
<line x1="172.86" x2="172.86" y1="502.80" y2="508.40"/>
<line x1="206.80" x2="206.80" y1="502.80" y2="512.50"/>
<line x1="241.87" x2="241.87" y1="502.80" y2="508.40"/>
<line x1="276.95" x2="276.95" y1="502.80" y2="508.40"/>
<line x1="310.89" x2="310.89" y1="502.80" y2="508.40"/>
<line x1="345.96" x2="345.96" y1="502.80" y2="508.40"/>
<line x1="379.90" x2="379.90" y1="502.80" y2="508.40"/>
<line x1="414.98" x2="414.98" y1="502.80" y2="512.50"/>
<line x1="450.05" x2="450.05" y1="502.80" y2="508.40"/>
<line x1="481.73" x2="481.73" y1="502.80" y2="508.40"/>
<line x1="516.80" x2="516.80" y1="502.80" y2="508.40"/>
<line x1="550.75" x2="550.75" y1="502.80" y2="508.40"/>
<line x1="585.82" x2="585.82" y1="502.80" y2="508.40"/>
<line x1="619.76" x2="619.76" y1="502.80" y2="512.50"/>
<line x1="654.83" x2="654.83" y1="502.80" y2="508.40"/>
<line x1="689.91" x2="689.91" y1="502.80" y2="508.40"/>
<line x1="723.85" x2="723.85" y1="502.80" y2="508.40"/>
<line x1="758.92" x2="758.92" y1="502.80" y2="508.40"/>
<line x1="792.87" x2="792.87" y1="502.80" y2="508.40"/>
<line x1="827.94" x2="827.94" y1="502.80" y2="512.50"/>
<line x1="863.01" x2="863.01" y1="502.80" y2="508.40"/>
<line x1="894.69" x2="894.69" y1="502.80" y2="508.40"/>
<line x1="929.76" x2="929.76" y1="502.80" y2="508.40"/>
<line x1="963.71" x2="963.71" y1="502.80" y2="508.40"/>
</g>
<g font-size="25" fill="#000">
<text x="103.2" y="508.15" text-anchor="end">0</text>
<text x="103.2" y="433.15" text-anchor="end">20</text>
<text x="103.2" y="358.15" text-anchor="end">40</text>
<text x="103.2" y="283.15" text-anchor="end">60</text>
<text x="103.2" y="208.15" text-anchor="end">80</text>
<text x="103.2" y="134.00" text-anchor="end">100</text>
<text x="206.80" y="541.5" text-anchor="middle">07/2024</text>
<text x="414.98" y="541.5" text-anchor="middle">01/2025</text>
<text x="619.76" y="541.5" text-anchor="middle">07/2025</text>
<text x="827.94" y="541.5" text-anchor="middle">01/2026</text>
<text x="555.7" y="576.8" text-anchor="middle" font-size="24.75">Month/Year</text>
<text transform="translate(38.7 315.7) rotate(-90)" text-anchor="middle">Obs/Exp Observations (%)</text>
</g>
<text x="555.4" y="43.3" text-anchor="middle" font-size="30.56" font-weight="bold">Observed/Expected Observations</text>
<text x="555.4" y="87.8" text-anchor="middle" font-size="27.86">PAT000GRC - ROB-EUREF data node</text>
<rect x="36.8" y="598.5" width="949.5" height="80" rx="5.5" fill="#fff" stroke="#d5d5d5" stroke-width="2.78"/>
<g font-size="25">
<circle cx="58.3" cy="618.4" r="4.25" fill="#b90000"/><text x="72.6" y="625.9">GLO 2+f</text>
<circle cx="58.3" cy="654.4" r="4.25" fill="#000099"/><text x="72.6" y="661.9">GPS 2+f</text>
<line x1="220.3" x2="245.7" y1="618.4" y2="618.4" stroke="#bf8dcf" stroke-width="0.8"/><circle cx="233.45" cy="618.4" r="4.25" fill="#bf8dcf"/><text x="247.7" y="625.9">obs ele</text>
<line x1="380.3" x2="405.7" y1="618.4" y2="618.4" stroke="#000" stroke-width="2.78" stroke-dasharray="2.78 4.58"/><circle cx="392.9" cy="618.4" r="2.1" fill="#000"/><text x="406.2" y="625.9">log ele</text>
<circle cx="545.4" cy="618.4" r="4.25" fill="#807cbc"/><text x="560.2" y="625.9">RINEX2</text>
<circle cx="707.55" cy="618.4" r="4.25" fill="#660066"/><text x="722.0" y="625.9">RINEX3</text>
<circle cx="868.6" cy="618.4" r="4.25" fill="#1e001e"/><text x="884.1" y="625.9">RINEX4</text>
</g>
<text x="36.0" y="709.8" font-size="19.44" font-style="italic">Sat Apr 18 13:13:46 2026</text>
<text x="969.6" y="709.8" font-size="19.44" font-style="italic" text-anchor="end">©GNSS@ROB</text>
</svg>
</body></html>
